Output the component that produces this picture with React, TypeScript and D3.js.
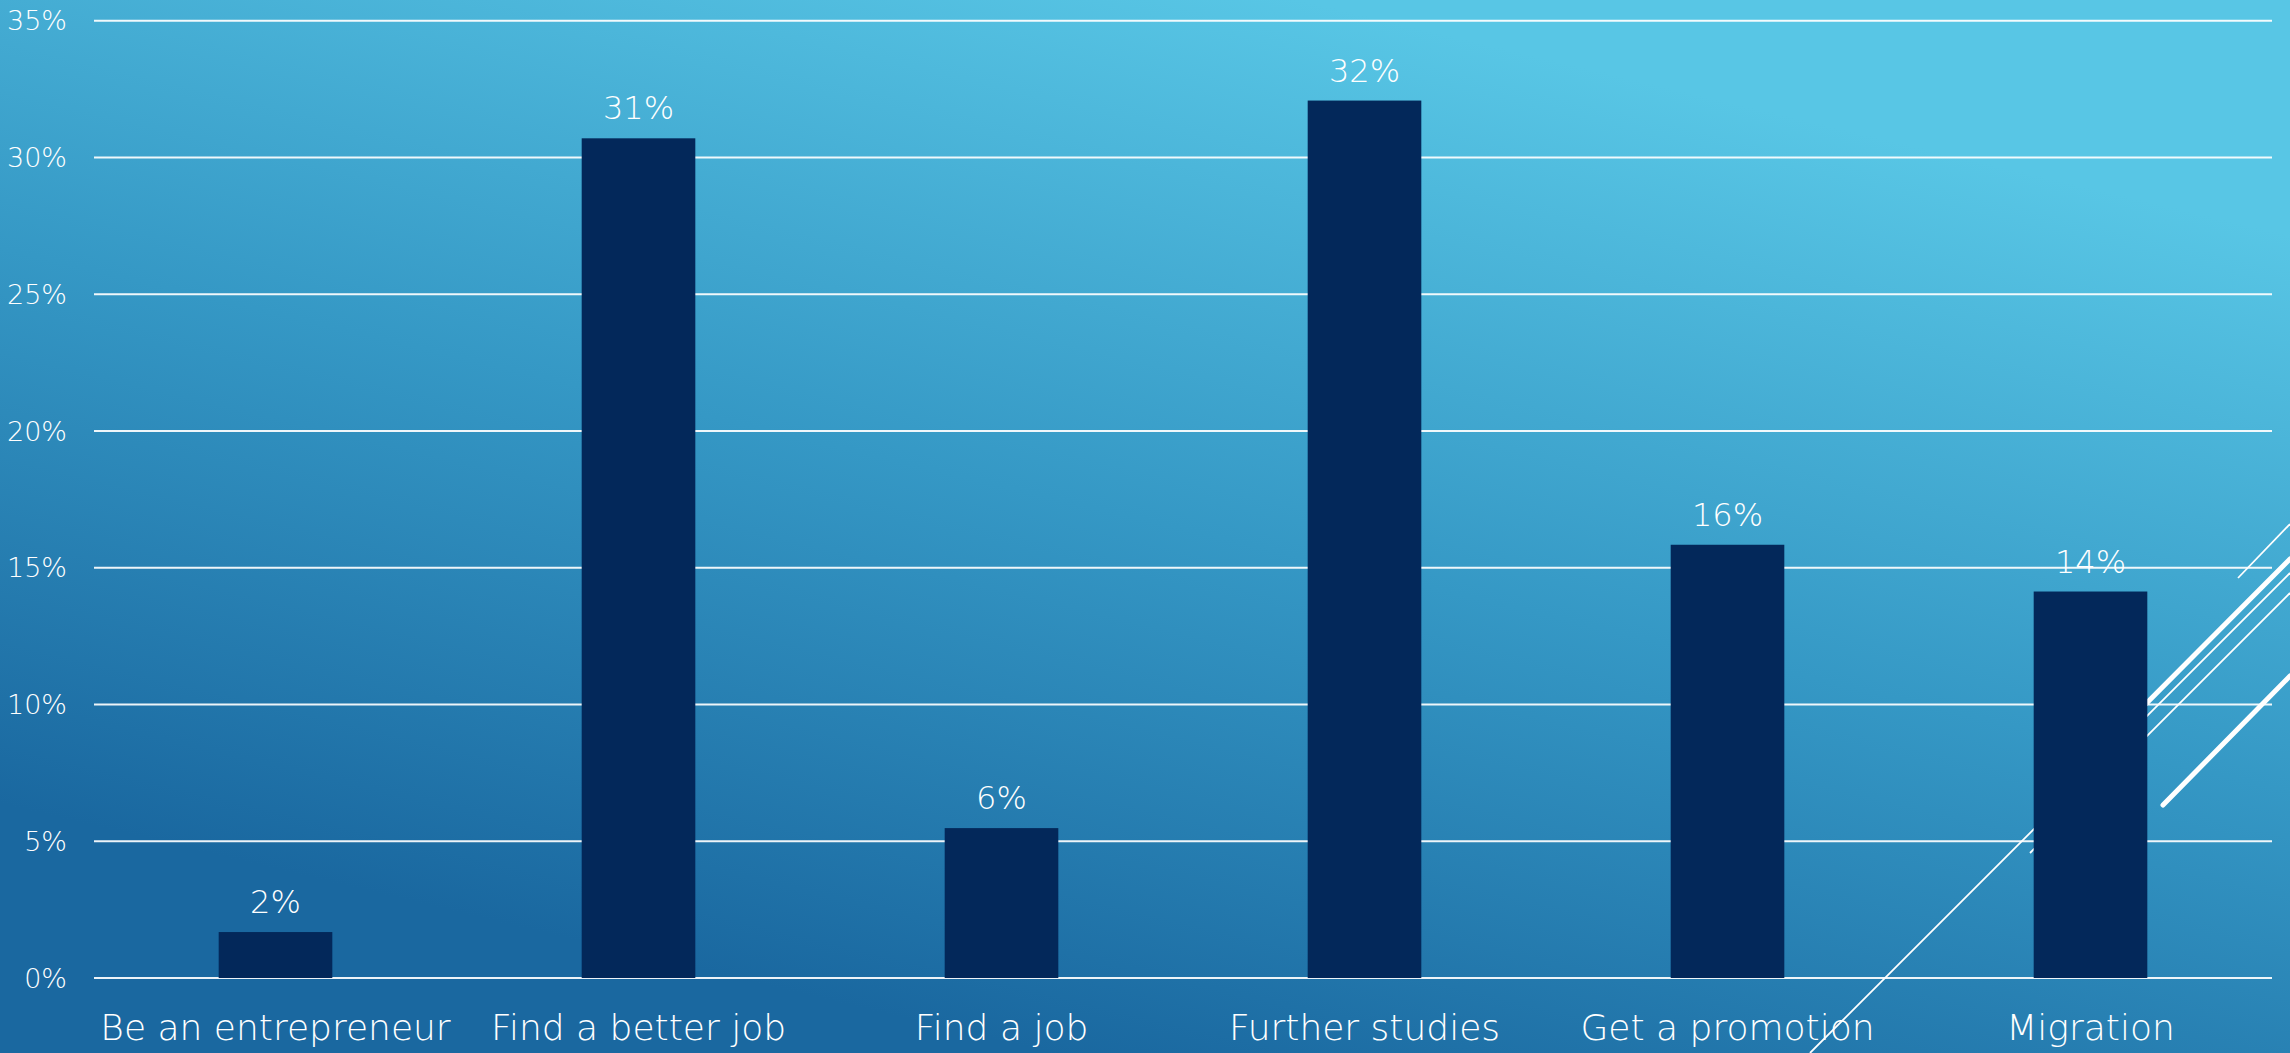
import React from "react";
import * as d3 from "d3";

const categories = ["Be an entrepreneur", "Find a better job", "Find a job", "Further studies", "Get a promotion", "Migration"];
const values = [0.0168, 0.307, 0.0548, 0.3208, 0.1584, 0.1413];
const valueLabels = ["2%", "31%", "6%", "32%", "16%", "14%"];
const yTicks = [0, 0.05, 0.1, 0.15, 0.2, 0.25, 0.3, 0.35];

// decorative theme strokes (pairs of points, in page pixels)
const decoLines: { x1: number; y1: number; x2: number; y2: number; w: number; cap: string }[] = [
  { x1: 1810, y1: 1053, x2: 2290, y2: 573, w: 1.8, cap: "butt" },
  { x1: 2030, y1: 853, x2: 2290, y2: 593, w: 1.8, cap: "butt" },
  { x1: 2100, y1: 750, x2: 2290, y2: 559, w: 5, cap: "round" },
  { x1: 2163, y1: 805, x2: 2290, y2: 676, w: 5, cap: "round" },
  { x1: 2238, y1: 578, x2: 2290, y2: 524, w: 1.8, cap: "butt" },
];

const W = 2290;
const H = 1053;
const FONT = "'DejaVu Sans', 'Lato', sans-serif";

export default function App() {
  const x = d3.scaleBand<string>().domain(categories).range([94, 2272]).paddingInner(0.687).paddingOuter(0.3435);
  const y = d3.scaleLinear().domain([0, 0.35]).range([978, 20.7]);
  const fmt = d3.format(".0%");

  return (
    <div style={{ position: "absolute", left: 0, top: 0 }}>
      <svg width={W} height={H} style={{ display: "block" }}>
        <defs>
          <linearGradient id="bg" gradientUnits="userSpaceOnUse" x1={1050} y1={1053} x2={1300} y2={0}>
            <stop offset="0" stopColor="#1a68a0" />
            <stop offset="0.5" stopColor="#3598c5" />
            <stop offset="1" stopColor="#58c6e5" />
          </linearGradient>
        </defs>
        <rect x={0} y={0} width={W} height={H} fill="url(#bg)" />
        <g>
          {decoLines.map((l, i) => (
            <line key={i} x1={l.x1} y1={l.y1} x2={l.x2} y2={l.y2} stroke="#ffffff" strokeWidth={l.w} strokeLinecap={l.cap as any} />
          ))}
        </g>
        <g>
          {yTicks.map((t) => (
            <g key={t}>
              <line x1={94} x2={2272} y1={y(t)} y2={y(t)} stroke="#ffffff" strokeOpacity={0.92} strokeWidth={2} />
              <text x={67} y={y(t)} dy="0.36em" textAnchor="end" fill="#ffffff" fontFamily={FONT} fontWeight={200} fontSize={27}>
                {fmt(t)}
              </text>
            </g>
          ))}
        </g>
        <g>
          {categories.map((c, i) => (
            <rect key={c} x={x(c)} y={y(values[i])} width={x.bandwidth()} height={y(0) - y(values[i])} fill="#03285a" />
          ))}
        </g>
        <g>
          {categories.map((c, i) => (
            <text key={c} x={(x(c) as number) + x.bandwidth() / 2} y={y(values[i]) - 19} textAnchor="middle" fill="#ffffff" fontFamily={FONT} fontWeight={200} fontSize={32}>
              {valueLabels[i]}
            </text>
          ))}
        </g>
        <g>
          {categories.map((c) => (
            <text key={c} x={(x(c) as number) + x.bandwidth() / 2} y={1040} textAnchor="middle" fill="#ffffff" fontFamily={FONT} fontWeight={200} fontSize={36}>
              {c}
            </text>
          ))}
        </g>
      </svg>
    </div>
  );
}
